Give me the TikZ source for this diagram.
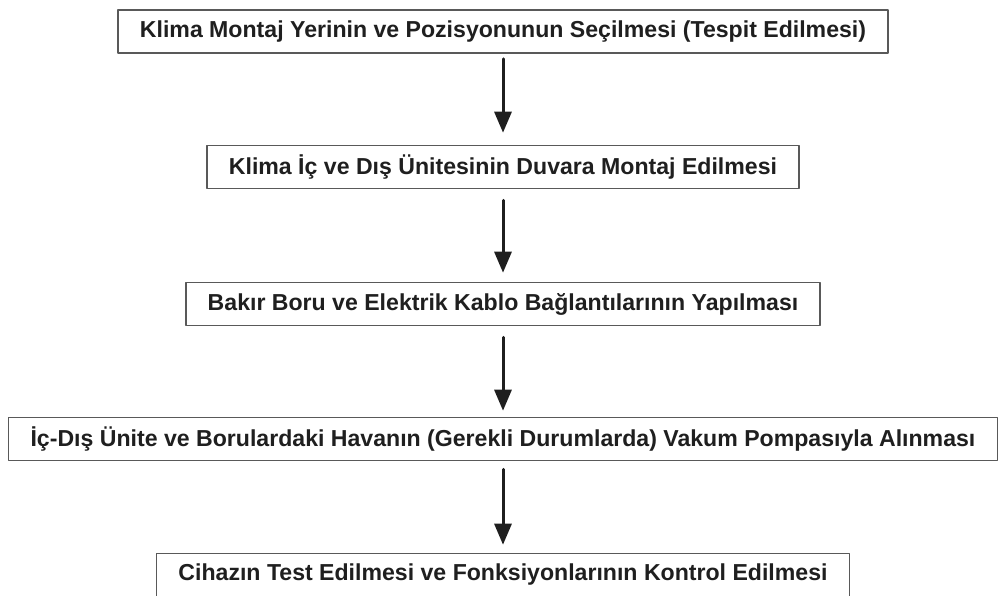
\documentclass[tikz,border=0pt]{standalone}
\usepackage{fontspec}
\setmainfont{Liberation Sans}
\usetikzlibrary{arrows.meta}
\definecolor{kutu}{rgb}{0.35,0.35,0.35}
\definecolor{yazi}{rgb}{0.12,0.12,0.12}

\begin{document}
\begin{tikzpicture}[x=1pt,y=1pt,line cap=round,line join=round,
	adim/.style={draw=yazi,line width=3pt,-{Triangle[width=17pt,length=21pt]}},
	kutu/.style={draw=kutu,line width=1.6pt,fill=white,text=yazi,inner xsep=22pt,
		minimum height=43pt,font=\fontsize{23.1}{26}\bfseries}]
	\useasboundingbox (0,0) rectangle (1003,-595);
	\node[kutu] (k1) at (503,-31.5) {Klima Montaj Yerinin ve Pozisyonunun Seçilmesi (Tespit Edilmesi)};
	\node[kutu] (k2) at (503,-167) {Klima İç ve Dış Ünitesinin Duvara Montaj Edilmesi};
	\node[kutu] (k3) at (503,-304) {Bakır Boru ve Elektrik Kablo Bağlantılarının Yapılması};
	\node[kutu] (k4) at (503,-439) {İç-Dış Ünite ve Borulardaki Havanın (Gerekli Durumlarda) Vakum Pompasıyla Alınması};
	\node[kutu] (k5) at (503,-575) {Cihazın Test Edilmesi ve Fonksiyonlarının Kontrol Edilmesi};
	\draw[adim,shorten <=5pt,shorten >=12pt] (k1.south) -- (k2.north);
	\draw[adim,shorten <=11pt,shorten >=9pt] (k2.south) -- (k3.north);
	\draw[adim,shorten <=11pt,shorten >=6pt] (k3.south) -- (k4.north);
	\draw[adim,shorten <=8pt,shorten >=8pt] (k4.south) -- (k5.north);
\end{tikzpicture}
\end{document}
